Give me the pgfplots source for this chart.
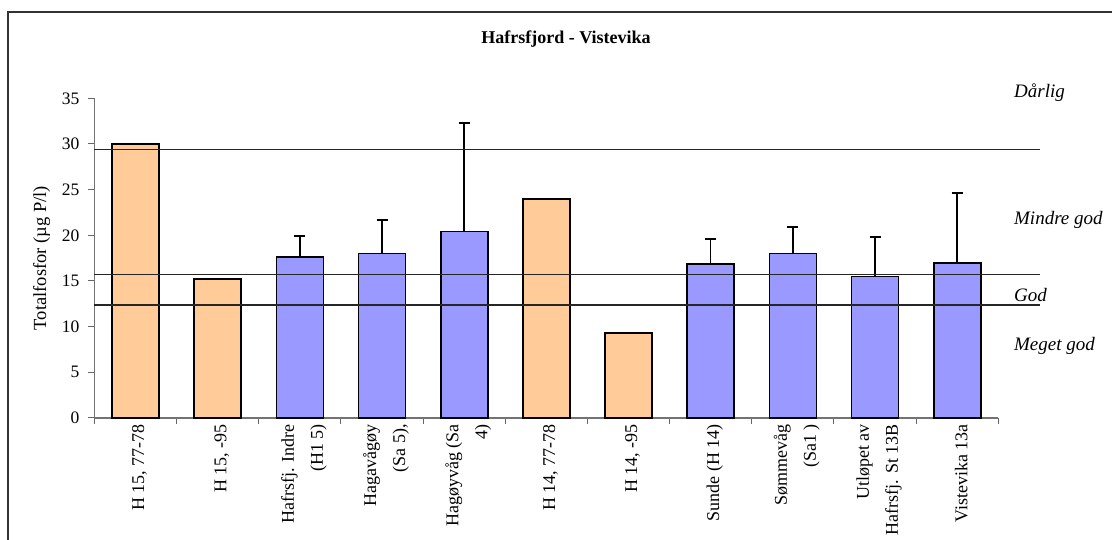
\documentclass[border=0pt]{standalone}
\usepackage{fontspec}
\setmainfont{Liberation Serif}
\usepackage{pgfplots}
\pgfplotsset{compat=1.18}
\definecolor{barorange}{HTML}{FFCC99}
\definecolor{barblue}{HTML}{9999FF}
\begin{document}
\begin{tikzpicture}
\useasboundingbox (-94.5pt,-122pt) rectangle (1017.5pt,418pt);
\begin{axis}[
  scale only axis,
  width=903.8pt, height=319.7pt,
  xmin=-0.5, xmax=10.5, ymin=0, ymax=35,
  axis x line=bottom, axis y line=left,
  axis line style={-, draw=black!55, line width=1.1pt},
  clip=false,
  ytick={0,5,...,35},
  xtick={0,...,10},
  xticklabels={{H 15, 77-78},{H 15, -95},{Hafrsfj. Indre\\(H1 5)},{Hagavågøy\\(Sa 5),},{Hagøyvåg (Sa\\4)},{H 14, 77-78},{H 14, -95},{Sunde (H 14)},{Sømmevåg\\(Sa1 )},{Utløpet av\\Hafrsfj. St 13B},{Vistevika 13a}},
  minor xtick={-0.5,0.5,...,10.5},
  tick align=outside,
  major tick length=6pt, minor tick length=6pt,
  xtick style={draw=none},
  minor x tick style={draw=black!60, line width=1pt},
  ytick style={draw=black!60, line width=1pt},
  /pgf/number format/assume math mode=true,
  yticklabel style={font=\fontsize{17.5}{20}\selectfont, inner sep=0pt, xshift=-9pt},
  xticklabel style={font=\fontsize{18}{29}\selectfont, rotate=90, anchor=east, align=right, inner sep=0pt, yshift=-4pt},
  every axis y label/.style={at={([xshift=-53pt]axis description cs:0,0.5)}, rotate=90, anchor=center},
  ylabel={Totalfosfor (µg P/l)},
  ylabel style={font=\fontsize{18.5}{22}\selectfont},
  ybar, bar width=47pt, bar shift=0pt,
]
\addplot[fill=barorange, draw=black, line width=1.6pt] coordinates {(0,30.0) (1,15.2) (5,24.0) (6,9.3)};
\addplot[fill=barblue, draw=black, line width=1.6pt,
  error bars/.cd, y dir=plus, y explicit,
  error bar style={line width=1.5pt, black},
  error mark options={rotate=90, mark size=5.5pt, line width=1.5pt, black}]
  coordinates {
  (2,17.65) +- (0,2.3)
  (3,18.0) +- (0,3.7)
  (4,20.4) +- (0,11.9)
  (7,16.85) +- (0,2.75)
  (8,18.0) +- (0,2.9)
  (9,15.5) +- (0,4.3)
  (10,17.0) +- (0,7.65)
  };
\addplot[sharp plot, draw=black!85, line width=1.8pt, forget plot] coordinates {(-0.5,29.4) (11.01,29.4)};
\addplot[sharp plot, draw=black!85, line width=1.8pt, forget plot] coordinates {(-0.5,15.7) (11.01,15.7)};
\addplot[sharp plot, draw=black!85, line width=1.8pt, forget plot] coordinates {(-0.5,12.4) (11.01,12.4)};
\node[anchor=west, font=\fontsize{19}{22}\selectfont\itshape] at (axis cs:10.65,35.6) {Dårlig};
\node[anchor=west, font=\fontsize{19}{22}\selectfont\itshape] at (axis cs:10.65,21.7) {Mindre god};
\node[anchor=west, font=\fontsize{19}{22}\selectfont\itshape] at (axis cs:10.65,13.5) {God};
\node[anchor=west, font=\fontsize{19}{22}\selectfont\itshape] at (axis cs:10.65,7.9) {Meget god};
\end{axis}
\node[font=\fontsize{18}{22}\selectfont\bfseries] at (471.5pt,379pt) {Hafrsfjord - Vistevika};
\draw[black!80, line width=1.8pt] (-86.5pt,-130pt) -- (-86.5pt,406pt) -- (1030pt,406pt);
\end{tikzpicture}
\end{document}
